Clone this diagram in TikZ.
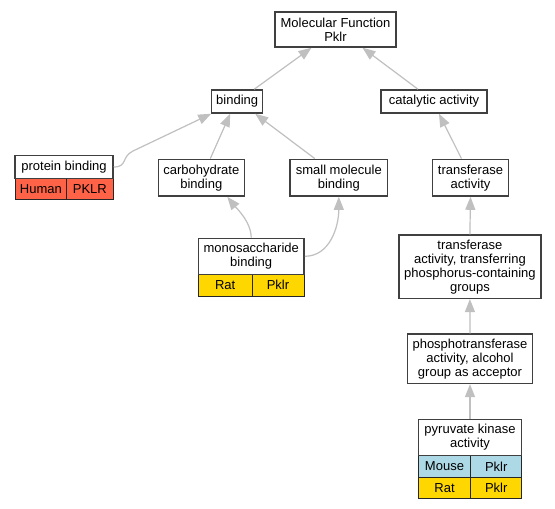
\documentclass[tikz,border=0pt]{standalone}
\usepackage{fontspec}
\setmainfont{Liberation Sans}
\usetikzlibrary{arrows.meta}
\definecolor{edgegray}{HTML}{C0C0C0}
\definecolor{tomato}{HTML}{FF6347}
\definecolor{gold}{HTML}{FFD700}
\definecolor{lblue}{HTML}{ADD8E6}
\definecolor{border}{HTML}{404040}
\begin{document}
\begin{tikzpicture}[x=1pt,y=-1pt,
  box/.style={draw=border, fill=white, line width=1.5pt, inner sep=0pt, align=center, font=\fontsize{13}{14}\selectfont},
  cell/.style={draw=black!85, line width=1pt, inner sep=0pt, font=\fontsize{13}{14}\selectfont},
  edge/.style={draw=edgegray, line width=1.2pt, -{Triangle[length=13pt,width=10pt]}}]
\useasboundingbox[fill=white] (0,0) rectangle (555,509);
% nodes
\node[box, minimum width=121pt, minimum height=35pt] (mf) at (335.5,29.5) {Molecular Function\\Pklr};
\node[box, minimum width=51pt, minimum height=23pt] (bind) at (237.2,101.5) {binding};
\node[box, minimum width=106pt, minimum height=23pt] (cat) at (434,101.5) {catalytic activity};
% protein binding
\node[cell, fill=tomato, minimum width=51.7pt, minimum height=21pt] (pbh) at (40.85,188.8) {Human};
\node[cell, fill=tomato, minimum width=46.3pt, minimum height=21pt] (pbp) at (89.85,188.8) {PKLR};
\node[box, minimum width=98pt, minimum height=22.6pt] (pb) at (64,167) {protein binding};
\node[box, minimum width=86pt, minimum height=36.7pt] (carb) at (201.3,177.7) {carbohydrate\\binding};
\node[box, minimum width=97.7pt, minimum height=36.7pt] (small) at (338.8,177.7) {small molecule\\binding};
\node[box, minimum width=75.6pt, minimum height=36.7pt] (trans) at (470.5,177.7) {transferase\\activity};
% monosaccharide binding
\node[cell, fill=gold, minimum width=53.7pt, minimum height=21.7pt] (mrat) at (225.15,285.15) {Rat};
\node[cell, fill=gold, minimum width=52pt, minimum height=21.7pt] (mpk) at (278,285.15) {Pklr};
\node[box, minimum width=105.7pt, minimum height=36pt] (mono) at (251.2,256.3) {monosaccharide\\binding};
\node[box, minimum width=141.7pt, minimum height=63.3pt] (tp) at (469.9,266.7) {transferase\\activity, transferring\\phosphorus-containing\\groups};
\node[box, minimum width=125.4pt, minimum height=49.3pt] (ph) at (470,358.7) {phosphotransferase\\activity, alcohol\\group as acceptor};
% pyruvate kinase activity
\node[cell, fill=lblue, minimum width=52.4pt, minimum height=22pt] (pkm) at (444.5,466.3) {Mouse};
\node[cell, fill=lblue, minimum width=51pt, minimum height=22pt] (pkmp) at (496.2,466.3) {Pklr};
\node[cell, fill=gold, minimum width=52.4pt, minimum height=21pt] (pkr) at (444.5,487.8) {Rat};
\node[cell, fill=gold, minimum width=51pt, minimum height=21pt] (pkrp) at (496.2,487.8) {Pklr};
\node[box, minimum width=103.4pt, minimum height=36pt] (pk) at (470,437.3) {pyruvate kinase\\activity};
% edges
\coordinate (pbbend) at (133,151);
\draw[edge] ([xshift=17pt]bind.north) -- ([xshift=-24pt]mf.south);
\draw[edge] ([xshift=-16pt]cat.north) -- ([xshift=27pt]mf.south);
\draw[edge] (pb.east) .. controls +(14,0) and +(-12,6) .. (pbbend) -- ([xshift=-26pt]bind.south);
\draw[edge] ([xshift=9pt]carb.north) -- ([xshift=-7pt]bind.south);
\draw[edge] ([xshift=-24pt]small.north) -- ([xshift=18pt]bind.south);
\draw[edge] ([xshift=-9pt]trans.north) -- ([xshift=5pt]cat.south);
\draw[edge] (mono.north) .. controls +(0,-16) and +(8,10) .. ([xshift=26pt]carb.south);
\draw[edge] (mono.east) .. controls +(25,0) and +(0,30) .. (small.south);
\draw[edge] (tp.north) -- (trans.south);
\draw[edge] (ph.north) -- (tp.south);
\draw[edge] (pk.north) -- (ph.south);
\end{tikzpicture}
\end{document}
